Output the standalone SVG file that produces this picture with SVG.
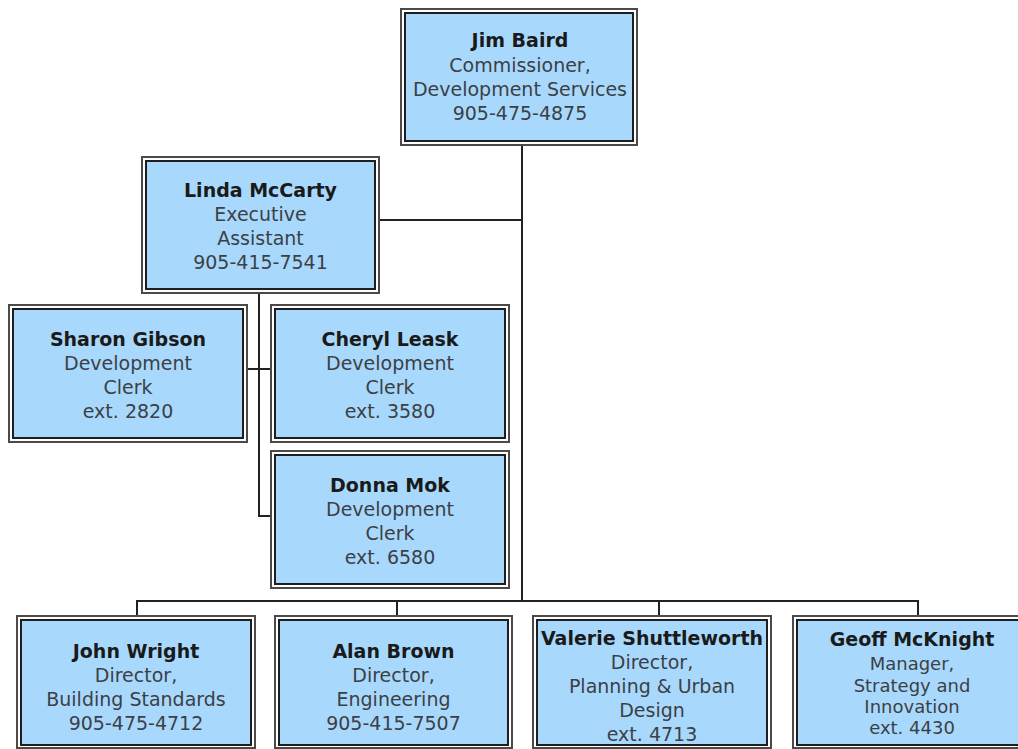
<svg xmlns="http://www.w3.org/2000/svg" width="1018" height="749" viewBox="0 0 1018 749">
  <style>
    .frame { fill: #ffffff; stroke: #4a4a4a; stroke-width: 2; }
    .panel { fill: #a8d9fc; stroke: #1e1e1e; stroke-width: 2; }
    .name { font-family: "DejaVu Sans", "Liberation Sans", sans-serif; font-weight: bold; font-size: 19px; fill: #1a1a1a; text-anchor: middle; }
    .line { font-family: "DejaVu Sans", "Liberation Sans", sans-serif; font-size: 19px; fill: #3c4046; text-anchor: middle; }
    .small { font-size: 18px; }
    .wire { fill: none; stroke: #222222; stroke-width: 2; }
  </style>

  <rect x="0" y="0" width="1018" height="749" fill="#ffffff"/>

  <!-- reporting lines -->
  <g id="connectors">
    <path class="wire" d="M522 146 V601"/>
    <path class="wire" d="M380 220 H522"/>
    <path class="wire" d="M259 294 V516 H270"/>
    <path class="wire" d="M248 369 H270"/>
    <path class="wire" d="M137 615 V601 H918 V615"/>
    <path class="wire" d="M397 601 V615"/>
    <path class="wire" d="M659 601 V615"/>
  </g>

  <g id="jim-baird">
    <rect class="frame" x="401" y="9" width="236" height="136"/>
    <rect class="panel" x="405" y="13" width="228" height="128"/>
    <text class="name" x="520" y="47">Jim Baird</text>
    <text class="line" x="520" y="71.5">Commissioner,</text>
    <text class="line" x="520" y="95.5">Development Services</text>
    <text class="line" x="520" y="119.5">905-475-4875</text>
  </g>

  <g id="linda-mccarty">
    <rect class="frame" x="142" y="157" width="237" height="136"/>
    <rect class="panel" x="146" y="161" width="229" height="128"/>
    <text class="name" x="260.5" y="196.5">Linda McCarty</text>
    <text class="line" x="260.5" y="220.5">Executive</text>
    <text class="line" x="260.5" y="244.5">Assistant</text>
    <text class="line" x="260.5" y="268.5">905-415-7541</text>
  </g>

  <g id="sharon-gibson">
    <rect class="frame" x="9" y="305" width="238" height="137"/>
    <rect class="panel" x="13" y="309" width="230" height="129"/>
    <text class="name" x="128" y="346">Sharon Gibson</text>
    <text class="line" x="128" y="370">Development</text>
    <text class="line" x="128" y="394">Clerk</text>
    <text class="line" x="128" y="418">ext. 2820</text>
  </g>

  <g id="cheryl-leask">
    <rect class="frame" x="271" y="305" width="238" height="137"/>
    <rect class="panel" x="275" y="309" width="230" height="129"/>
    <text class="name" x="390" y="346">Cheryl Leask</text>
    <text class="line" x="390" y="370">Development</text>
    <text class="line" x="390" y="394">Clerk</text>
    <text class="line" x="390" y="418">ext. 3580</text>
  </g>

  <g id="donna-mok">
    <rect class="frame" x="271" y="451" width="238" height="137"/>
    <rect class="panel" x="275" y="455" width="230" height="129"/>
    <text class="name" x="390" y="492">Donna Mok</text>
    <text class="line" x="390" y="516">Development</text>
    <text class="line" x="390" y="540">Clerk</text>
    <text class="line" x="390" y="564">ext. 6580</text>
  </g>

  <g id="john-wright">
    <rect class="frame" x="17" y="616" width="238" height="132"/>
    <rect class="panel" x="21" y="620" width="230" height="125"/>
    <text class="name" x="136" y="658">John Wright</text>
    <text class="line" x="136" y="682">Director,</text>
    <text class="line" x="136" y="705.5">Building Standards</text>
    <text class="line" x="136" y="729.5">905-475-4712</text>
  </g>

  <g id="alan-brown">
    <rect class="frame" x="275" y="616" width="237" height="132"/>
    <rect class="panel" x="279" y="620" width="229" height="125"/>
    <text class="name" x="393.5" y="658">Alan Brown</text>
    <text class="line" x="393.5" y="682">Director,</text>
    <text class="line" x="393.5" y="705.5">Engineering</text>
    <text class="line" x="393.5" y="729.5">905-415-7507</text>
  </g>

  <g id="valerie-shuttleworth">
    <rect class="frame" x="533" y="616" width="238" height="132"/>
    <rect class="panel" x="537" y="620" width="230" height="125"/>
    <text class="name" x="652" y="645">Valerie Shuttleworth</text>
    <text class="line" x="652" y="668.5">Director,</text>
    <text class="line" x="652" y="693">Planning &amp; Urban</text>
    <text class="line" x="652" y="716.5">Design</text>
    <text class="line" x="652" y="740.5">ext. 4713</text>
  </g>

  <g id="geoff-mcknight">
    <rect class="frame" x="793" y="616" width="238" height="132"/>
    <rect class="panel" x="797" y="620" width="230" height="125"/>
    <text class="name" x="912" y="645.5">Geoff McKnight</text>
    <text class="line small" x="912" y="670">Manager,</text>
    <text class="line small" x="912" y="691.5">Strategy and</text>
    <text class="line small" x="912" y="712.5">Innovation</text>
    <text class="line small" x="912" y="733.5">ext. 4430</text>
  </g>
</svg>
